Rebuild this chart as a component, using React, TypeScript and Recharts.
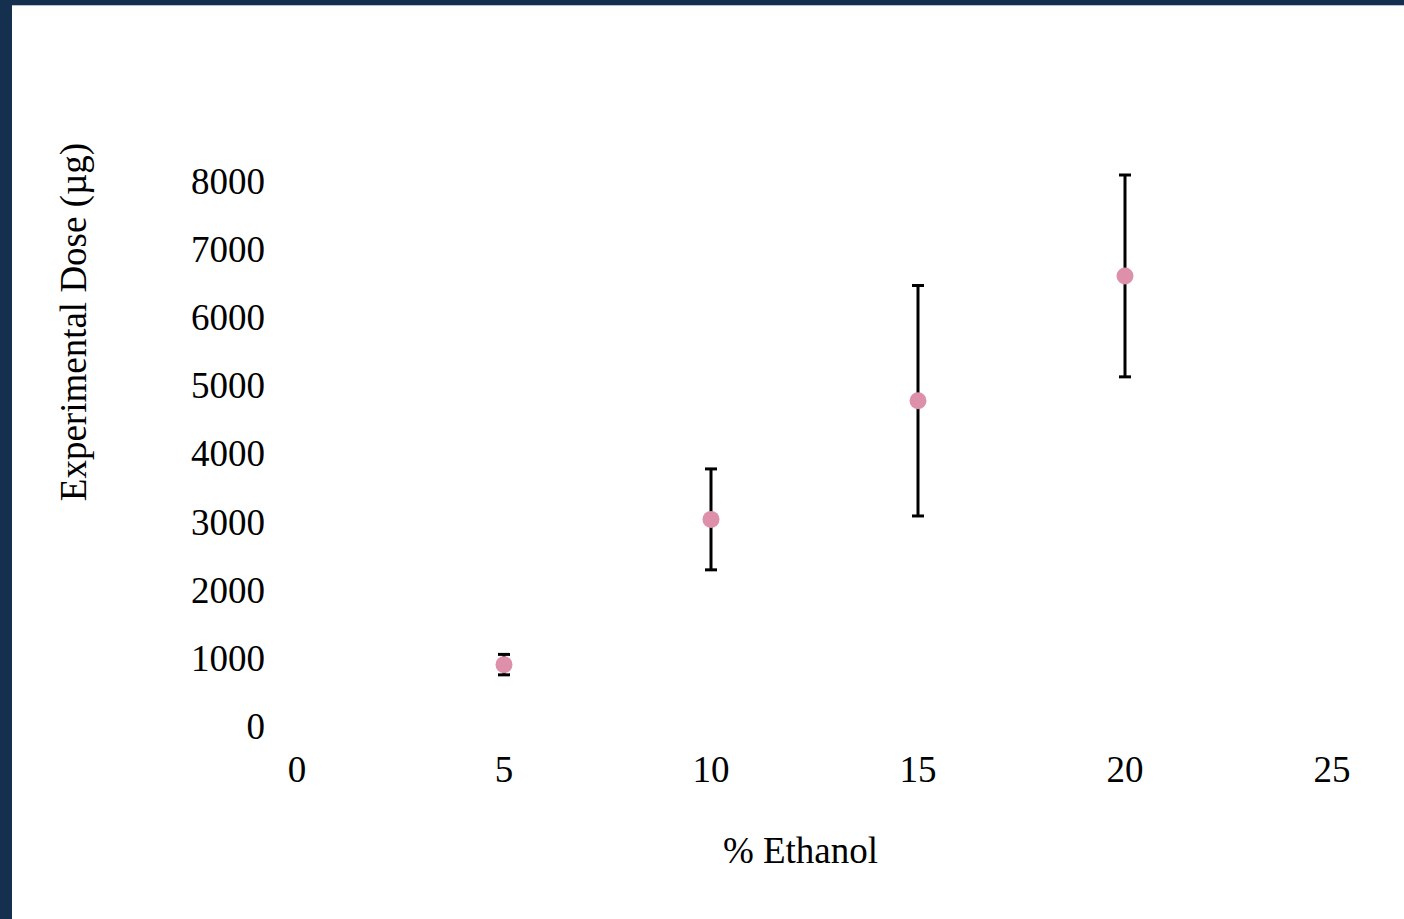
import React from 'react';
import { ScatterChart, Scatter, XAxis, YAxis, ErrorBar, Label } from 'recharts';

const ethanol = [5, 10, 15, 20];
const dose = [900, 3030, 4770, 6600];
const doseErr = [150, 740, 1690, 1480];
const xTicks = [0, 5, 10, 15, 20, 25];
const yTicks = [0, 1000, 2000, 3000, 4000, 5000, 6000, 7000, 8000];

const data = ethanol.map((x, i) => ({ x, y: dose[i], err: doseErr[i] }));

const FONT = '"Liberation Serif", "Times New Roman", serif';
const tickStyle = { fontFamily: FONT, fontSize: 37, fill: '#000' };

const Dot = (props: any) => <circle cx={props.cx} cy={props.cy} r={8.5} fill="#de8fa9" />;

export default function App() {
  return (
    <div style={{ position: 'absolute', left: 0, top: 0, width: 1404, height: 919, background: '#15304e', overflow: 'hidden' }}>
      <div style={{ position: 'absolute', left: 12, top: 5, width: 1392, height: 914, background: '#fff', borderTop: '1px solid #b8c2cc', boxSizing: 'border-box' }} />
      <div style={{ position: 'absolute', left: 0, top: 0 }}>
        <ScatterChart width={1404} height={919} margin={{ top: 175, right: 72, left: 197, bottom: 133 }}>
          <XAxis
            type="number"
            dataKey="x"
            domain={[0, 25]}
            ticks={xTicks}
            axisLine={false}
            tickLine={false}
            tickSize={0}
            tickMargin={30}
            height={60}
            tick={tickStyle}
            interval={0}
          >
            <Label
              content={({ viewBox }: any) => (
                <text x={viewBox.x + viewBox.width / 2 - 14} y={viewBox.y + 137} textAnchor="middle" style={tickStyle}>
                  % Ethanol
                </text>
              )}
            />
          </XAxis>
          <YAxis
            type="number"
            dataKey="y"
            domain={[0, 8000]}
            ticks={yTicks}
            axisLine={false}
            tickLine={false}
            tickSize={0}
            tickMargin={32}
            width={100}
            tick={tickStyle}
            interval={0}
          >
            <Label
              content={() => (
                <text x={0} y={0} transform="translate(86,322) rotate(-90)" textAnchor="middle" style={tickStyle}>
                  Experimental Dose (µg)
                </text>
              )}
            />
          </YAxis>
          <Scatter data={data} shape={Dot} isAnimationActive={false}>
            <ErrorBar dataKey="err" direction="y" width={6} stroke="#000" strokeWidth={3} isAnimationActive={false} />
          </Scatter>
        </ScatterChart>
      </div>
    </div>
  );
}
